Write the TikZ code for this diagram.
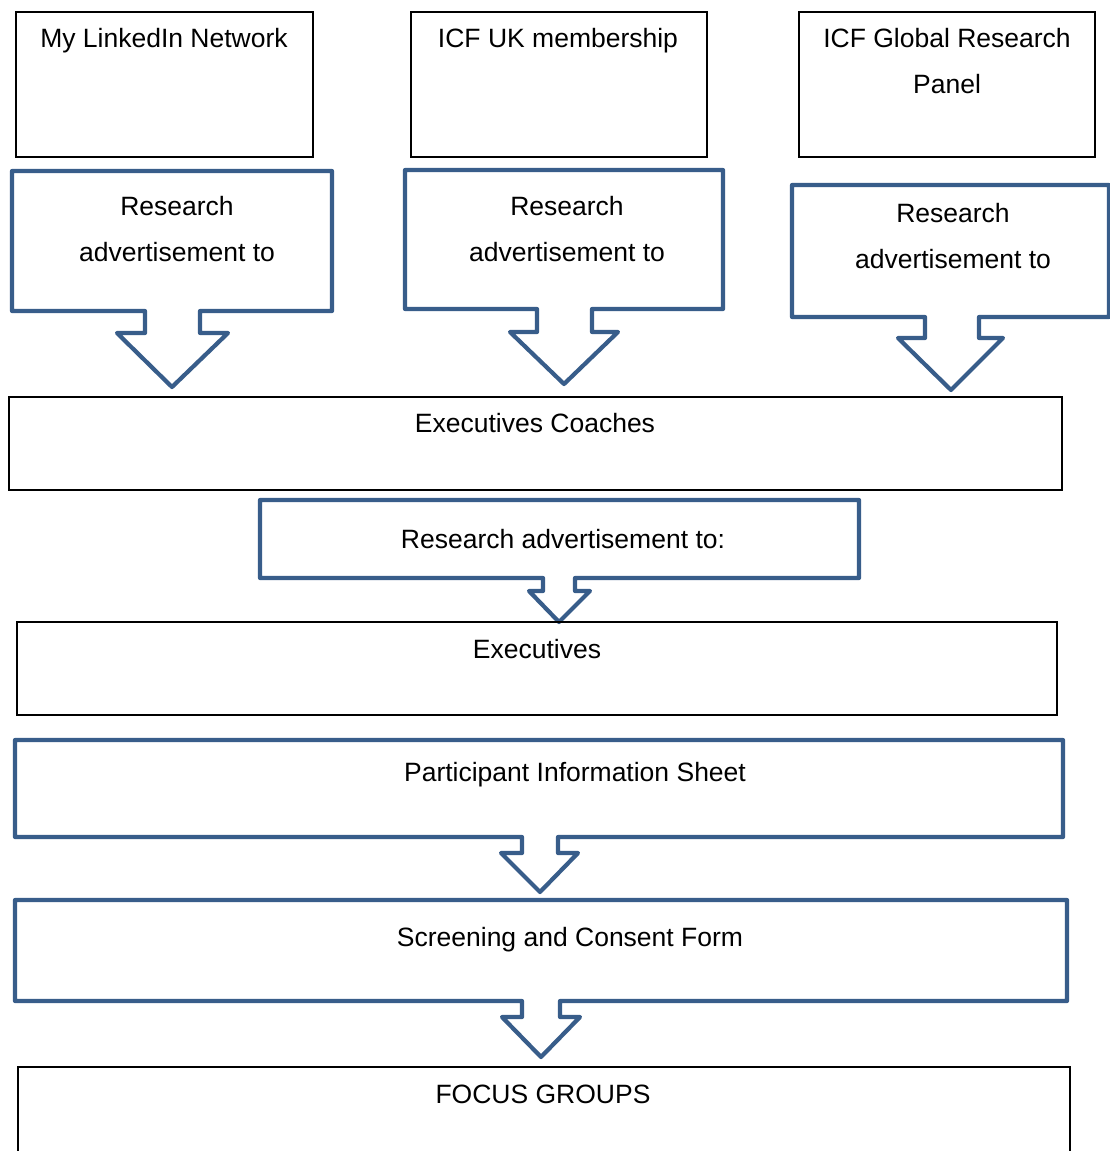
\documentclass[tikz,border=0pt]{standalone}
\usepackage{fontspec}
\setmainfont{Liberation Sans}
\definecolor{calloutblue}{RGB}{56,93,138}
\begin{document}
\begin{tikzpicture}[x=1pt,y=-1pt,
  blackbox/.style={draw=black,line width=1.5pt},
  callout/.style={draw=calloutblue,line width=4.2pt,line join=round,fill=white},
  lbl/.style={anchor=base,inner sep=0pt,font=\fontsize{26.5}{46}\selectfont}]
\useasboundingbox (0,0) rectangle (1110,1151);
\fill[white] (0,0) rectangle (1110,1151);

% top source boxes
\draw[blackbox] (16,12) rectangle (313,157);
\draw[blackbox] (411,12) rectangle (707,157);
\draw[blackbox] (799,12) rectangle (1095,157);
\node[lbl] (linkedin) at (164,47.5) {My LinkedIn Network};
\node[lbl] (icfuk) at (558,47.5) {ICF UK membership};
\node[lbl] (icfgl1) at (947,47.5) {ICF Global Research};
\node[lbl] (icfgl2) at (947,93.5) {Panel};

% callouts 1-3
\draw[callout] (12,171) -- (332,171) -- (332,311) -- (200,311) -- (200,333) -- (228,333)
  -- (172,387) -- (117,333) -- (145,333) -- (145,311) -- (12,311) -- cycle;
\node[lbl] (ra1) at (177,215.5) {Research};
\node[lbl] (rb1) at (177,261.5) {advertisement to};

\draw[callout] (405,170) -- (723,170) -- (723,309) -- (592,309) -- (592,332) -- (618,332)
  -- (564,384) -- (510,332) -- (537,332) -- (537,309) -- (405,309) -- cycle;
\node[lbl] (ra2) at (567,215.5) {Research};
\node[lbl] (rb2) at (567,261.5) {advertisement to};

\draw[callout] (792,185) -- (1109,185) -- (1109,317) -- (979,317) -- (979,338) -- (1003,338)
  -- (951,390) -- (898,338) -- (925,338) -- (925,317) -- (792,317) -- cycle;
\node[lbl] (ra3) at (953,222.5) {Research};
\node[lbl] (rb3) at (953,268.5) {advertisement to};

% executive coaches
\draw[blackbox] (9,397) rectangle (1062,490);
\node[lbl] (coaches) at (535,432.5) {Executives Coaches};

% callout 4
\draw[callout] (260,500) -- (859,500) -- (859,578) -- (575,578) -- (575,591) -- (590,591)
  -- (559,622) -- (529,591) -- (543,591) -- (543,578) -- (260,578) -- cycle;
\node[lbl] (ra4) at (563,548.5) {Research advertisement to:};

% executives
\draw[blackbox] (17,622) rectangle (1057,715);
\node[lbl] (execs) at (537,658.5) {Executives};

% participant information sheet
\draw[callout] (15,740) -- (1063,740) -- (1063,837) -- (558,837) -- (558,853) -- (578,853)
  -- (540,892) -- (501,853) -- (522,853) -- (522,837) -- (15,837) -- cycle;
\node[lbl] (pis) at (575,781.5) {Participant Information Sheet};

% screening and consent form
\draw[callout] (15,900) -- (1067,900) -- (1067,1001) -- (560,1001) -- (560,1017) -- (580,1017)
  -- (541,1057) -- (502,1017) -- (522,1017) -- (522,1001) -- (15,1001) -- cycle;
\node[lbl] (scf) at (570,946.5) {Screening and Consent Form};

% focus groups
\draw[blackbox] (18,1067) rectangle (1070,1175);
\node[lbl] (focus) at (543,1103.5) {FOCUS GROUPS};
\end{tikzpicture}
\end{document}
